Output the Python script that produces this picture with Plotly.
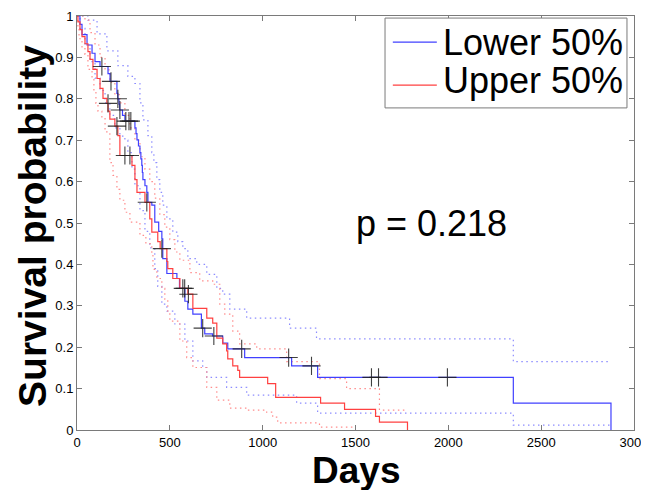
import plotly.graph_objects as go

# Kaplan-Meier curves (days, survival after the step)
lower_t = [0, 16, 27, 54, 81, 97, 124, 167, 178, 215, 220, 226, 230, 245, 258, 312, 318, 323,
           331, 339, 344, 349, 352, 355, 366, 376, 382, 403, 419, 440, 457, 462, 484, 538, 552,
           581, 597, 624, 670, 688, 730, 785, 812, 903, 1156, 1296, 2350, 2876]
lower_s = [1.0, 0.98, 0.955, 0.93, 0.91, 0.89, 0.878, 0.861, 0.842, 0.813, 0.80, 0.787, 0.773,
           0.76, 0.746, 0.73, 0.716, 0.701, 0.686, 0.67, 0.655, 0.639, 0.622, 0.605, 0.59, 0.574,
           0.55, 0.543, 0.502, 0.48, 0.462, 0.414, 0.378, 0.366, 0.342, 0.311, 0.292, 0.28, 0.246,
           0.232, 0.227, 0.21, 0.196, 0.175, 0.155, 0.127, 0.065, 0.0]

upper_t = [0, 5, 16, 27, 43, 59, 70, 86, 108, 124, 140, 161, 167, 177, 204, 220, 231, 296, 312,
           323, 366, 392, 403, 435, 448, 484, 489, 516, 554, 597, 624, 699, 731, 753, 785, 806,
           812, 839, 866, 876, 1027, 1070, 1312, 1441, 1608, 1629, 1780]
upper_s = [1.0, 0.986, 0.967, 0.95, 0.933, 0.914, 0.895, 0.871, 0.849, 0.825, 0.801, 0.789, 0.77,
           0.751, 0.734, 0.711, 0.663, 0.639, 0.605, 0.574, 0.55, 0.51, 0.478, 0.455, 0.438, 0.407,
           0.39, 0.366, 0.342, 0.328, 0.294, 0.27, 0.258, 0.222, 0.208, 0.191, 0.172, 0.155, 0.144,
           0.127, 0.112, 0.079, 0.065, 0.05, 0.033, 0.019, 0.0]

# confidence bounds (dotted)
lower_hi_t = [0, 59, 108, 161, 220, 274, 312, 339, 355, 382, 403, 414, 430, 446, 462, 484, 516,
              543, 570, 597, 645, 699, 753, 785, 823, 914, 1145, 1290, 2350, 2860]
lower_hi_s = [1.0, 0.99, 0.957, 0.916, 0.88, 0.854, 0.837, 0.79, 0.749, 0.711, 0.67, 0.646, 0.605,
              0.574, 0.543, 0.51, 0.478, 0.455, 0.438, 0.414, 0.40, 0.376, 0.342, 0.328, 0.292,
              0.27, 0.246, 0.22, 0.165, 0.165]
lower_lo_t = [0, 16, 43, 70, 97, 124, 151, 177, 204, 231, 258, 274, 296, 312, 339, 366, 392, 419,
              435, 457, 484, 527, 581, 624, 677, 699, 806, 914, 1183, 1296, 2350, 2876]
lower_lo_s = [1.0, 0.97, 0.93, 0.89, 0.85, 0.82, 0.79, 0.76, 0.73, 0.71, 0.70, 0.67, 0.63, 0.59,
              0.53, 0.48, 0.44, 0.39, 0.347, 0.304, 0.287, 0.256, 0.215, 0.167, 0.151, 0.127,
              0.103, 0.084, 0.065, 0.041, 0.012, 0.012]

upper_hi_t = [0, 43, 70, 97, 124, 151, 177, 204, 231, 258, 285, 312, 339, 366, 392, 419, 446, 473,
              500, 527, 554, 608, 661, 731, 769, 796, 839, 876, 968, 1129, 1306, 1452, 1629, 1775]
upper_hi_s = [1.0, 0.99, 0.96, 0.93, 0.90, 0.87, 0.84, 0.81, 0.79, 0.76, 0.73, 0.70, 0.66, 0.63,
              0.60, 0.56, 0.52, 0.49, 0.46, 0.43, 0.41, 0.38, 0.36, 0.352, 0.304, 0.28, 0.239,
              0.208, 0.196, 0.165, 0.124, 0.10, 0.048, 0.048]
upper_lo_t = [0, 5, 11, 27, 43, 59, 81, 91, 102, 113, 134, 151, 177, 194, 215, 231, 258, 285, 339,
              371, 403, 409, 430, 457, 473, 489, 500, 554, 591, 624, 699, 753, 823, 914, 1021,
              1054, 1081, 1306, 1495]
upper_lo_s = [1.0, 0.974, 0.945, 0.921, 0.907, 0.871, 0.849, 0.818, 0.789, 0.77, 0.754, 0.72,
              0.646, 0.615, 0.581, 0.555, 0.526, 0.502, 0.47, 0.45, 0.423, 0.388, 0.366, 0.342,
              0.316, 0.287, 0.263, 0.215, 0.175, 0.151, 0.103, 0.072, 0.053, 0.048, 0.043, 0.031,
              0.017, 0.007, 0.007]

# censored observations (+)
cens_t = [134, 183, 220, 231, 263, 280, 290, 167, 215, 258, 285, 376, 457, 570, 580, 600, 677,
          737, 887, 1140, 1263, 1586, 1624, 1995]
cens_s = [0.878, 0.842, 0.80, 0.773, 0.746, 0.746, 0.746, 0.789, 0.734, 0.663, 0.663, 0.55,
          0.438, 0.342, 0.342, 0.328, 0.246, 0.227, 0.196, 0.175, 0.155, 0.127, 0.127, 0.127]

group_names = ["Lower 50%", "Upper 50%"]
p_text = "p = 0.218"

BLUE = "#4040ff"
RED = "#ff4040"
BLUE_CI = "#8c8cff"
RED_CI = "#ff8c8c"
FRAME = "#7a7a7a"

fig = go.Figure()

for t, s, c in [(lower_hi_t, lower_hi_s, BLUE_CI), (lower_lo_t, lower_lo_s, BLUE_CI),
                (upper_hi_t, upper_hi_s, RED_CI), (upper_lo_t, upper_lo_s, RED_CI)]:
    fig.add_trace(go.Scatter(x=t, y=s, mode="lines", line_shape="hv", showlegend=False,
                             line=dict(color=c, width=1.2, dash="1.5px,3.5px"),
                             hoverinfo="skip"))

fig.add_trace(go.Scatter(x=lower_t, y=lower_s, mode="lines", line_shape="hv", showlegend=False,
                         name=group_names[0], line=dict(color=BLUE, width=1.2)))
fig.add_trace(go.Scatter(x=upper_t, y=upper_s, mode="lines", line_shape="hv", showlegend=False,
                         name=group_names[1], line=dict(color=RED, width=1.2)))

fig.add_trace(go.Scatter(x=cens_t, y=cens_s, mode="markers", showlegend=False,
                         marker=dict(symbol="cross-thin", size=13,
                                     line=dict(color="rgba(30,30,30,0.85)", width=1.1))))

axis_style = dict(showline=True, linecolor=FRAME, linewidth=1, mirror="ticks",
                  ticks="inside", ticklen=5, tickcolor=FRAME, showgrid=False,
                  zeroline=False, automargin=False, ticklabeloverflow="allow",
                  tickfont=dict(size=13, color="black"))

# legend drawn by hand so the rows sit as tight as in the original (paper coords)
shapes = [
    dict(type="rect", xref="paper", yref="paper", x0=0.553, x1=0.9874, y0=0.778, y1=0.995,
         line=dict(color=FRAME, width=1), fillcolor="white", layer="above"),
    dict(type="line", xref="paper", yref="paper", x0=0.567, x1=0.646, y0=0.937, y1=0.937,
         line=dict(color=BLUE, width=1.2)),
    dict(type="line", xref="paper", yref="paper", x0=0.567, x1=0.646, y0=0.833, y1=0.833,
         line=dict(color=RED, width=1.2)),
]

annotations = [
    dict(text=group_names[0], x=0.654, y=0.937, xref="paper", yref="paper", showarrow=False,
         xanchor="left", yanchor="middle", font=dict(size=36)),
    dict(text=group_names[1], x=0.654, y=0.845, xref="paper", yref="paper", showarrow=False,
         xanchor="left", yanchor="middle", font=dict(size=36)),
    dict(text=p_text, x=1909, y=0.50, xref="x", yref="y", showarrow=False,
         font=dict(size=36)),
    dict(text="<b>Days</b>", x=0.5, y=-0.099, xref="paper", yref="paper",
         showarrow=False, yanchor="middle", font=dict(size=37)),
    dict(text="<b>Survival probability</b>", x=-0.079, y=0.493, xref="paper", yref="paper",
         showarrow=False, textangle=-90, xanchor="center", yanchor="middle",
         font=dict(size=39)),
]

# the page body adds an 8px offset at top/left, so margins are shifted by 8px
fig.update_layout(
    width=649, height=482,
    margin=dict(l=69, r=23, t=8, b=60),
    paper_bgcolor="white", plot_bgcolor="white",
    font=dict(family="Liberation Sans, Arial, sans-serif", color="black"),
    xaxis=dict(range=[0, 3000], dtick=500, **axis_style),
    yaxis=dict(range=[0, 1], dtick=0.1, **axis_style),
    showlegend=False,
    shapes=shapes,
    annotations=annotations,
)

fig.write_html("out.html")
